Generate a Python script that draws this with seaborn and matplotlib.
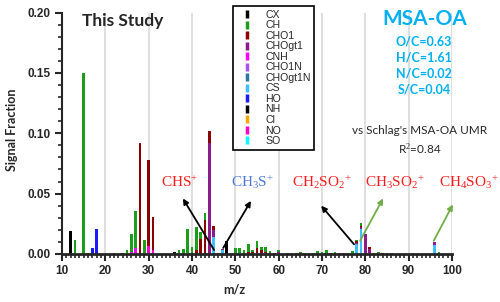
import matplotlib
matplotlib.use('Agg')
import matplotlib.pyplot as plt
from matplotlib.lines import Line2D
from matplotlib.ticker import MultipleLocator, FormatStrFormatter
import pandas as pd
import seaborn as sns

# signal fraction at each integer m/z, one dict per ion family
cx = {12: 0.019, 24: 0.0006, 36: 0.0015, 48: 0.011}
ch = {13: 0.0115, 15: 0.150, 25: 0.0033, 26: 0.0145, 27: 0.031, 29: 0.0115,
      37: 0.003, 38: 0.0045, 39: 0.0205, 40: 0.0055, 41: 0.0195, 42: 0.006,
      43: 0.006, 50: 0.004, 51: 0.005, 52: 0.0035, 53: 0.006, 54: 0.002,
      55: 0.0058, 56: 0.003, 57: 0.0035, 58: 0.0012, 60: 0.0015, 63: 0.0007,
      65: 0.002, 67: 0.0012, 68: 0.0012, 69: 0.0015, 70: 0.0015, 71: 0.0025,
      73: 0.001, 77: 0.0022, 78: 0.001, 79: 0.002, 83: 0.0015, 85: 0.0012,
      91: 0.001, 97: 0.0015}
cho1 = {16: 0.0008, 28: 0.092, 30: 0.071, 31: 0.028, 41: 0.003, 42: 0.0125,
        43: 0.028, 44: 0.010, 45: 0.003, 53: 0.002, 54: 0.0015, 55: 0.004,
        56: 0.002, 57: 0.0015, 59: 0.0008, 66: 0.001, 69: 0.0008, 72: 0.001,
        73: 0.0008, 78: 0.001, 79: 0.0012, 81: 0.001, 82: 0.0008, 84: 0.0008}
chogt1 = {22: 0.0012, 44: 0.092, 45: 0.006, 47: 0.001, 58: 0.001, 60: 0.0008,
          62: 0.0006, 64: 0.0006, 74: 0.0008, 75: 0.0008, 76: 0.0008, 78: 0.001,
          79: 0.0012, 80: 0.0163, 81: 0.0045, 86: 0.0008, 96: 0.0025}
cnh = {26: 0.002, 27: 0.005, 50: 0.001, 55: 0.001, 56: 0.0012}
cho1n = {57: 0.0005, 71: 0.0004}
chogt1n = {60: 0.001}
cs = {45: 0.014, 47: 0.003, 78: 0.0085, 79: 0.021, 96: 0.0075}
ho = {17: 0.005, 18: 0.0205}
nh = {}
cl = {}
no = {30: 0.007, 31: 0.003, 46: 0.001}
so = {}

families = ['CX', 'CH', 'CHO1', 'CHOgt1', 'CNH', 'CHO1N', 'CHOgt1N', 'CS',
            'HO', 'NH', 'Cl', 'NO', 'SO']
family_values = [cx, ch, cho1, chogt1, cnh, cho1n, chogt1n, cs, ho, nh, cl, no, so]
colors = ['#000000', '#1c9e1c', '#8b0000', '#8b1a8b', '#ff00ff', '#a855f0',
          '#2e75a8', '#40bfff', '#1a1aff', '#000000', '#ffa500', '#ff00cc', '#00ffff']
# first level ends up on top of the stack
stack_order = ['SO', 'Cl', 'CH', 'CHO1', 'CHOgt1', 'CHO1N', 'CHOgt1N', 'CS',
               'NH', 'CX', 'HO', 'CNH', 'NO']

rows = []
for fam, vals in zip(families, family_values):
    for m, v in vals.items():
        rows.append({'mz': m, 'frac': v, 'family': fam})
df = pd.DataFrame(rows)
palette = dict(zip(families, colors))
present = [f for f in stack_order if f in set(df['family'])]

sns.set_style('white')
plt.rcParams['font.family'] = ['Liberation Sans', 'DejaVu Sans']
plt.rcParams['mathtext.fontset'] = 'custom'
plt.rcParams['mathtext.rm'] = 'Liberation Serif'
plt.rcParams['mathtext.it'] = 'Liberation Serif:italic'

W, H = 500, 302
fig = plt.figure(figsize=(5, 3.02), dpi=100)
ax = fig.add_axes([62 / W, 1 - 254 / H, 390 / W, 241.5 / H])

sns.histplot(data=df, x='mz', weights='frac', hue='family', hue_order=present,
             palette=palette, multiple='stack', discrete=True, shrink=0.6,
             linewidth=0, alpha=1, legend=False, ax=ax)

ax.set_xlim(10, 100)
ax.set_ylim(0, 0.20)
ax.xaxis.set_major_locator(MultipleLocator(10))
ax.xaxis.set_minor_locator(MultipleLocator(1))
ax.yaxis.set_major_locator(MultipleLocator(0.05))
ax.yaxis.set_minor_locator(MultipleLocator(0.01))
ax.yaxis.set_major_formatter(FormatStrFormatter('%.2f'))
ax.xaxis.grid(True, which='major', color='#d9d9d9', lw=1.2)
ax.set_axisbelow(True)
for s in ['top', 'right']:
    ax.spines[s].set_visible(False)
ax.spines['left'].set_linewidth(1.5)
ax.spines['bottom'].set_linewidth(2)
ax.tick_params(which='major', direction='out', length=5, width=1.5,
               labelsize=8.5, pad=3)
ax.tick_params(which='minor', direction='out', length=3, width=1.2)
ax.tick_params(axis='x', which='both', bottom=True)
ax.tick_params(axis='y', which='both', left=True)
for lab in ax.get_xticklabels() + ax.get_yticklabels():
    lab.set_fontweight('bold')
ax.set_xlabel('')
ax.set_ylabel('')

def fx(x):
    return x / W

def fy(y):
    return 1 - y / H

fig.text(fx(12), fy(130), 'Signal Fraction', rotation=90, ha='center', va='center',
         fontsize=9, fontweight='bold', family='Lato')
fig.text(fx(234), fy(289), 'm/z', ha='center', va='center',
         fontsize=9, fontweight='bold', family='Lato')

fig.text(fx(123), fy(21), 'This Study', ha='center', va='center',
         fontsize=12.5, fontweight='bold', family='Lato')
blue = '#00b0f0'
fig.text(fx(425), fy(19), 'MSA-OA', ha='center', va='center',
         fontsize=15, fontweight='bold', family='Lato', color=blue)
ratios = ['O/C=0.63', 'H/C=1.61', 'N/C=0.02', 'S/C=0.04']
for i, r in enumerate(ratios):
    fig.text(fx(424), fy(41.5 + 16 * i), r, ha='center', va='center',
             fontsize=9, fontweight='bold', family='Lato', color=blue)
fig.text(fx(420), fy(130), "vs Schlag's MSA-OA UMR", ha='center', va='center',
         fontsize=8.5, family='Lato')
fig.text(fx(420), fy(149), 'R$^2$=0.84', ha='center', va='center',
         fontsize=8.5, family='Lato')

# ion labels and arrows
ion_labels = ['CHS$^{+}$', 'CH$_{3}$S$^{+}$', 'CH$_{2}$SO$_{2}$$^{+}$',
              'CH$_{3}$SO$_{2}$$^{+}$', 'CH$_{4}$SO$_{3}$$^{+}$']
ion_x = [37.2, 54.0, 70.0, 86.8, 104.0]
ion_colors = ['#ff1a1a', '#4a7bd8', '#ff1a1a', '#ff1a1a', '#ff1a1a']
for lab, x, c in zip(ion_labels, ion_x, ion_colors):
    ax.text(x, 0.059, lab, ha='center', va='center', fontsize=11,
            family='Liberation Serif', color=c, clip_on=False)

arrow_from = [(45.1, 0.0033), (47.2, 0.005), (77.4, 0.008), (78.8, 0.011), (95.8, 0.011)]
arrow_to = [(37.9, 0.046), (53.6, 0.044), (69.8, 0.040), (84.1, 0.046), (100.2, 0.041)]
arrow_colors = ['black', 'black', 'black', '#70ad47', '#70ad47']
for a, b, c in zip(arrow_from, arrow_to, arrow_colors):
    ax.annotate('', xy=b, xytext=a, annotation_clip=False,
                arrowprops=dict(arrowstyle='-|>', color=c, lw=1.3,
                                mutation_scale=8, shrinkA=0, shrinkB=0))

handles = [Line2D([0], [0], color=c, marker='|', ls='None', markersize=6, mew=2.5)
           for c in colors]
leg = fig.legend(handles, families, loc='upper left',
                 bbox_to_anchor=(fx(233), fy(6)), frameon=True, fancybox=False,
                 edgecolor='black', framealpha=1, fontsize=7.6, labelspacing=0.05,
                 handlelength=2.0, handletextpad=0.7, borderpad=0.35,
                 borderaxespad=0)
leg.get_frame().set_linewidth(1.2)

fig.savefig('out.png', dpi=100)
